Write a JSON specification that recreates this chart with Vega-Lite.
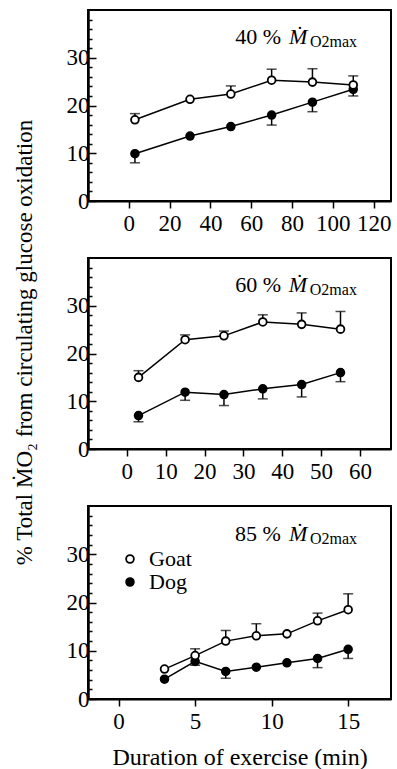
{
  "$schema": "https://vega.github.io/schema/vega-lite/v6.json",
  "background": "white",
  "padding": {"left": 13, "top": 9, "right": 0, "bottom": 0},
  "bounds": "flush",
  "spacing": 57,
  "title": {"text": "% Total ṀO₂ from circulating glucose oxidation", "orient": "left", "anchor": "middle", "font": "Liberation Serif", "fontSize": 23, "fontWeight": "normal", "color": "black", "offset": 28, "dx": 47},
  "datasets": {
    "p40": [
      {"a": "Dog", "x": 3, "y": 9.9, "e": 8.0},
      {"a": "Dog", "x": 30, "y": 13.6, "e": null},
      {"a": "Dog", "x": 50, "y": 15.6, "e": null},
      {"a": "Dog", "x": 70, "y": 18.0, "e": 15.9},
      {"a": "Dog", "x": 90, "y": 20.7, "e": 18.7},
      {"a": "Dog", "x": 110, "y": 23.4, "e": 22.0},
      {"a": "Goat", "x": 3, "y": 17.0, "e": 18.3},
      {"a": "Goat", "x": 30, "y": 21.3, "e": null},
      {"a": "Goat", "x": 50, "y": 22.4, "e": 24.1},
      {"a": "Goat", "x": 70, "y": 25.3, "e": 27.6},
      {"a": "Goat", "x": 90, "y": 24.9, "e": 27.7},
      {"a": "Goat", "x": 110, "y": 24.3, "e": 26.2}
    ],
    "p60": [
      {"a": "Dog", "x": 3, "y": 7.0, "e": 5.7},
      {"a": "Dog", "x": 15, "y": 11.9, "e": 10.2},
      {"a": "Dog", "x": 25, "y": 11.4, "e": 9.1},
      {"a": "Dog", "x": 35, "y": 12.6, "e": 10.5},
      {"a": "Dog", "x": 45, "y": 13.5, "e": 10.9},
      {"a": "Dog", "x": 55, "y": 16.0, "e": 14.1},
      {"a": "Goat", "x": 3, "y": 15.0, "e": 16.4},
      {"a": "Goat", "x": 15, "y": 22.9, "e": 23.9},
      {"a": "Goat", "x": 25, "y": 23.7, "e": 24.7},
      {"a": "Goat", "x": 35, "y": 26.6, "e": 28.1},
      {"a": "Goat", "x": 45, "y": 26.1, "e": 28.5},
      {"a": "Goat", "x": 55, "y": 25.1, "e": 28.8}
    ],
    "p85": [
      {"a": "Dog", "x": 3, "y": 4.1, "e": null},
      {"a": "Dog", "x": 5, "y": 7.8, "e": 7.0},
      {"a": "Dog", "x": 7, "y": 5.7, "e": 4.3},
      {"a": "Dog", "x": 9, "y": 6.6, "e": null},
      {"a": "Dog", "x": 11, "y": 7.5, "e": null},
      {"a": "Dog", "x": 13, "y": 8.4, "e": 6.5},
      {"a": "Dog", "x": 15, "y": 10.3, "e": 8.4},
      {"a": "Goat", "x": 3, "y": 6.2, "e": null},
      {"a": "Goat", "x": 5, "y": 9.0, "e": 10.4},
      {"a": "Goat", "x": 7, "y": 12.0, "e": 14.2},
      {"a": "Goat", "x": 9, "y": 13.1, "e": 15.6},
      {"a": "Goat", "x": 11, "y": 13.5, "e": null},
      {"a": "Goat", "x": 13, "y": 16.2, "e": 17.8},
      {"a": "Goat", "x": 15, "y": 18.5, "e": 21.8}
    ]
  },
  "resolve": {"scale": {"x": "independent", "y": "independent", "fill": "independent"}, "legend": {"fill": "independent"}},
  "vconcat": [
    {
      "width": 303, "height": 191,
      "resolve": {"axis": {"y": "independent"}},
      "layer": [
        {"data": {"name": "p40"}, "transform": [{"filter": "datum.e != null"}],
         "mark": {"type": "rule", "color": "black", "strokeWidth": 1.5},
         "encoding": {
           "x": {"field": "x", "type": "quantitative", "scale": {"domain": [-20, 128.5], "nice": false, "zero": false},
                 "axis": {"values": [0, 20, 40, 60, 80, 100, 120], "tickSize": 7, "labelPadding": 4, "title": null}},
           "y": {"field": "y", "type": "quantitative", "scale": {"domain": [0, 40], "nice": false},
                 "axis": {"orient": "left", "values": [0, 10, 20, 30], "tickSize": -8, "labelPadding": 7, "labelOverlap": false, "title": null}},
           "y2": {"field": "e"}}},
        {"data": {"name": "p40"}, "transform": [{"filter": "datum.e != null"}],
         "mark": {"type": "tick", "orient": "horizontal", "size": 10, "thickness": 1.5, "color": "black"},
         "encoding": {"x": {"field": "x", "type": "quantitative"},
                      "y": {"field": "e", "type": "quantitative", "axis": {"orient": "left", "values": [2,4,6,8,12,14,16,18,22,24,26,28,32,34,36,38], "tickSize": -4, "labels": false, "title": null}}}},
        {"data": {"name": "p40"},
         "mark": {"type": "line", "color": "black", "strokeWidth": 1.5},
         "encoding": {"x": {"field": "x", "type": "quantitative"}, "y": {"field": "y", "type": "quantitative", "axis": null}, "detail": {"field": "a"}}},
        {"data": {"name": "p40"},
         "mark": {"type": "point", "filled": true, "size": 60, "stroke": "black", "strokeWidth": 1.8, "opacity": 1},
         "encoding": {"x": {"field": "x", "type": "quantitative"}, "y": {"field": "y", "type": "quantitative", "axis": null},
                      "fill": {"field": "a", "type": "nominal", "scale": {"domain": ["Goat", "Dog"], "range": ["white", "black"]}, "legend": null}}},
        {"data": {"values": [{"t1": "40 %", "t3": "O2max"}]}, "mark": {"type": "text", "align": "right", "baseline": "alphabetic", "font": "Liberation Serif", "fontSize": 22, "color": "black"},
         "encoding": {"text": {"field": "t1"}, "x": {"datum": 74.6}, "y": {"datum": 32.8, "axis": null}}},
        {"data": {"values": [{"t1": "40 %", "t3": "O2max"}]}, "mark": {"type": "text", "text": "Ṁ", "align": "left", "baseline": "alphabetic", "font": "Liberation Serif", "fontStyle": "italic", "fontSize": 22, "color": "black"},
         "encoding": {"x": {"datum": 78.5}, "y": {"datum": 32.8, "axis": null}}},
        {"data": {"values": [{"t1": "40 %", "t3": "O2max"}]}, "mark": {"type": "text", "align": "left", "baseline": "alphabetic", "dy": 3, "font": "Liberation Serif", "fontSize": 16, "color": "black"},
         "encoding": {"text": {"field": "t3"}, "x": {"datum": 88.8}, "y": {"datum": 32.8, "axis": null}}}
      ]
    },
    {
      "width": 303, "height": 191,
      "resolve": {"axis": {"y": "independent"}},
      "layer": [
        {"data": {"name": "p60"}, "transform": [{"filter": "datum.e != null"}],
         "mark": {"type": "rule", "color": "black", "strokeWidth": 1.5},
         "encoding": {
           "x": {"field": "x", "type": "quantitative", "scale": {"domain": [-10, 68], "nice": false, "zero": false},
                 "axis": {"values": [0, 10, 20, 30, 40, 50, 60], "tickSize": 7, "labelPadding": 4, "title": null}},
           "y": {"field": "y", "type": "quantitative", "scale": {"domain": [0, 40], "nice": false},
                 "axis": {"orient": "left", "values": [0, 10, 20, 30], "tickSize": -8, "labelPadding": 7, "labelOverlap": false, "title": null}},
           "y2": {"field": "e"}}},
        {"data": {"name": "p60"}, "transform": [{"filter": "datum.e != null"}],
         "mark": {"type": "tick", "orient": "horizontal", "size": 10, "thickness": 1.5, "color": "black"},
         "encoding": {"x": {"field": "x", "type": "quantitative"},
                      "y": {"field": "e", "type": "quantitative", "axis": {"orient": "left", "values": [2,4,6,8,12,14,16,18,22,24,26,28,32,34,36,38], "tickSize": -4, "labels": false, "title": null}}}},
        {"data": {"name": "p60"},
         "mark": {"type": "line", "color": "black", "strokeWidth": 1.5},
         "encoding": {"x": {"field": "x", "type": "quantitative"}, "y": {"field": "y", "type": "quantitative", "axis": null}, "detail": {"field": "a"}}},
        {"data": {"name": "p60"},
         "mark": {"type": "point", "filled": true, "size": 60, "stroke": "black", "strokeWidth": 1.8, "opacity": 1},
         "encoding": {"x": {"field": "x", "type": "quantitative"}, "y": {"field": "y", "type": "quantitative", "axis": null},
                      "fill": {"field": "a", "type": "nominal", "scale": {"domain": ["Goat", "Dog"], "range": ["white", "black"]}, "legend": null}}},
        {"data": {"values": [{"t1": "60 %", "t3": "O2max"}]}, "mark": {"type": "text", "align": "right", "baseline": "alphabetic", "font": "Liberation Serif", "fontSize": 22, "color": "black"},
         "encoding": {"text": {"field": "t1"}, "x": {"datum": 39.7}, "y": {"datum": 32.8, "axis": null}}},
        {"data": {"values": [{"t1": "60 %", "t3": "O2max"}]}, "mark": {"type": "text", "text": "Ṁ", "align": "left", "baseline": "alphabetic", "font": "Liberation Serif", "fontStyle": "italic", "fontSize": 22, "color": "black"},
         "encoding": {"x": {"datum": 41.7}, "y": {"datum": 32.8, "axis": null}}},
        {"data": {"values": [{"t1": "60 %", "t3": "O2max"}]}, "mark": {"type": "text", "align": "left", "baseline": "alphabetic", "dy": 3, "font": "Liberation Serif", "fontSize": 16, "color": "black"},
         "encoding": {"text": {"field": "t3"}, "x": {"datum": 47.1}, "y": {"datum": 32.8, "axis": null}}}
      ]
    },
    {
      "width": 303, "height": 193,
      "resolve": {"axis": {"y": "independent"}},
      "layer": [
        {"data": {"name": "p85"}, "transform": [{"filter": "datum.e != null"}],
         "mark": {"type": "rule", "color": "black", "strokeWidth": 1.5},
         "encoding": {
           "x": {"field": "x", "type": "quantitative", "scale": {"domain": [-2, 17.8], "nice": false, "zero": false},
                 "axis": {"values": [0, 5, 10, 15], "tickSize": 7, "labelPadding": 4, "title": "Duration of exercise (min)", "titlePadding": 12}},
           "y": {"field": "y", "type": "quantitative", "scale": {"domain": [0, 40], "nice": false},
                 "axis": {"orient": "left", "values": [0, 10, 20, 30], "tickSize": -8, "labelPadding": 7, "labelOverlap": false, "title": null}},
           "y2": {"field": "e"}}},
        {"data": {"name": "p85"}, "transform": [{"filter": "datum.e != null"}],
         "mark": {"type": "tick", "orient": "horizontal", "size": 10, "thickness": 1.5, "color": "black"},
         "encoding": {"x": {"field": "x", "type": "quantitative"},
                      "y": {"field": "e", "type": "quantitative", "axis": {"orient": "left", "values": [2,4,6,8,12,14,16,18,22,24,26,28,32,34,36,38], "tickSize": -4, "labels": false, "title": null}}}},
        {"data": {"name": "p85"},
         "mark": {"type": "line", "color": "black", "strokeWidth": 1.5},
         "encoding": {"x": {"field": "x", "type": "quantitative"}, "y": {"field": "y", "type": "quantitative", "axis": null}, "detail": {"field": "a"}}},
        {"data": {"name": "p85"},
         "mark": {"type": "point", "filled": true, "size": 60, "stroke": "black", "strokeWidth": 1.8, "opacity": 1},
         "encoding": {"x": {"field": "x", "type": "quantitative"}, "y": {"field": "y", "type": "quantitative", "axis": null},
                      "fill": {"field": "a", "type": "nominal", "scale": {"domain": ["Goat", "Dog"], "range": ["white", "black"]},
                               "legend": {"orient": "none", "legendX": 31, "legendY": 42, "title": null, "direction": "vertical",
                                          "labelFont": "Liberation Serif", "labelFontSize": 22, "labelColor": "black", "labelOffset": 8,
                                          "symbolType": "circle", "symbolSize": 60, "symbolStrokeColor": "black", "symbolStrokeWidth": 1.8, "rowPadding": 1}}}},
        {"data": {"values": [{"t1": "85 %", "t3": "O2max"}]}, "mark": {"type": "text", "align": "right", "baseline": "alphabetic", "font": "Liberation Serif", "fontSize": 22, "color": "black"},
         "encoding": {"text": {"field": "t1"}, "x": {"datum": 10.6}, "y": {"datum": 32.8, "axis": null}}},
        {"data": {"values": [{"t1": "85 %", "t3": "O2max"}]}, "mark": {"type": "text", "text": "Ṁ", "align": "left", "baseline": "alphabetic", "font": "Liberation Serif", "fontStyle": "italic", "fontSize": 22, "color": "black"},
         "encoding": {"x": {"datum": 11.13}, "y": {"datum": 32.8, "axis": null}}},
        {"data": {"values": [{"t1": "85 %", "t3": "O2max"}]}, "mark": {"type": "text", "align": "left", "baseline": "alphabetic", "dy": 3, "font": "Liberation Serif", "fontSize": 16, "color": "black"},
         "encoding": {"text": {"field": "t3"}, "x": {"datum": 12.5}, "y": {"datum": 32.8, "axis": null}}}
      ]
    }
  ],
  "config": {
    "view": {"stroke": "black", "strokeWidth": 2},
    "axis": {"domainColor": "black", "domainWidth": 2, "tickColor": "black", "tickWidth": 1.5, "grid": false,
             "labelFont": "Liberation Serif", "labelFontSize": 23, "labelColor": "black",
             "titleFont": "Liberation Serif", "titleFontSize": 24, "titleFontWeight": "normal", "titleColor": "black"},
    "legend": {"labelFont": "Liberation Serif", "labelFontSize": 22, "labelColor": "black"}
  }
}
